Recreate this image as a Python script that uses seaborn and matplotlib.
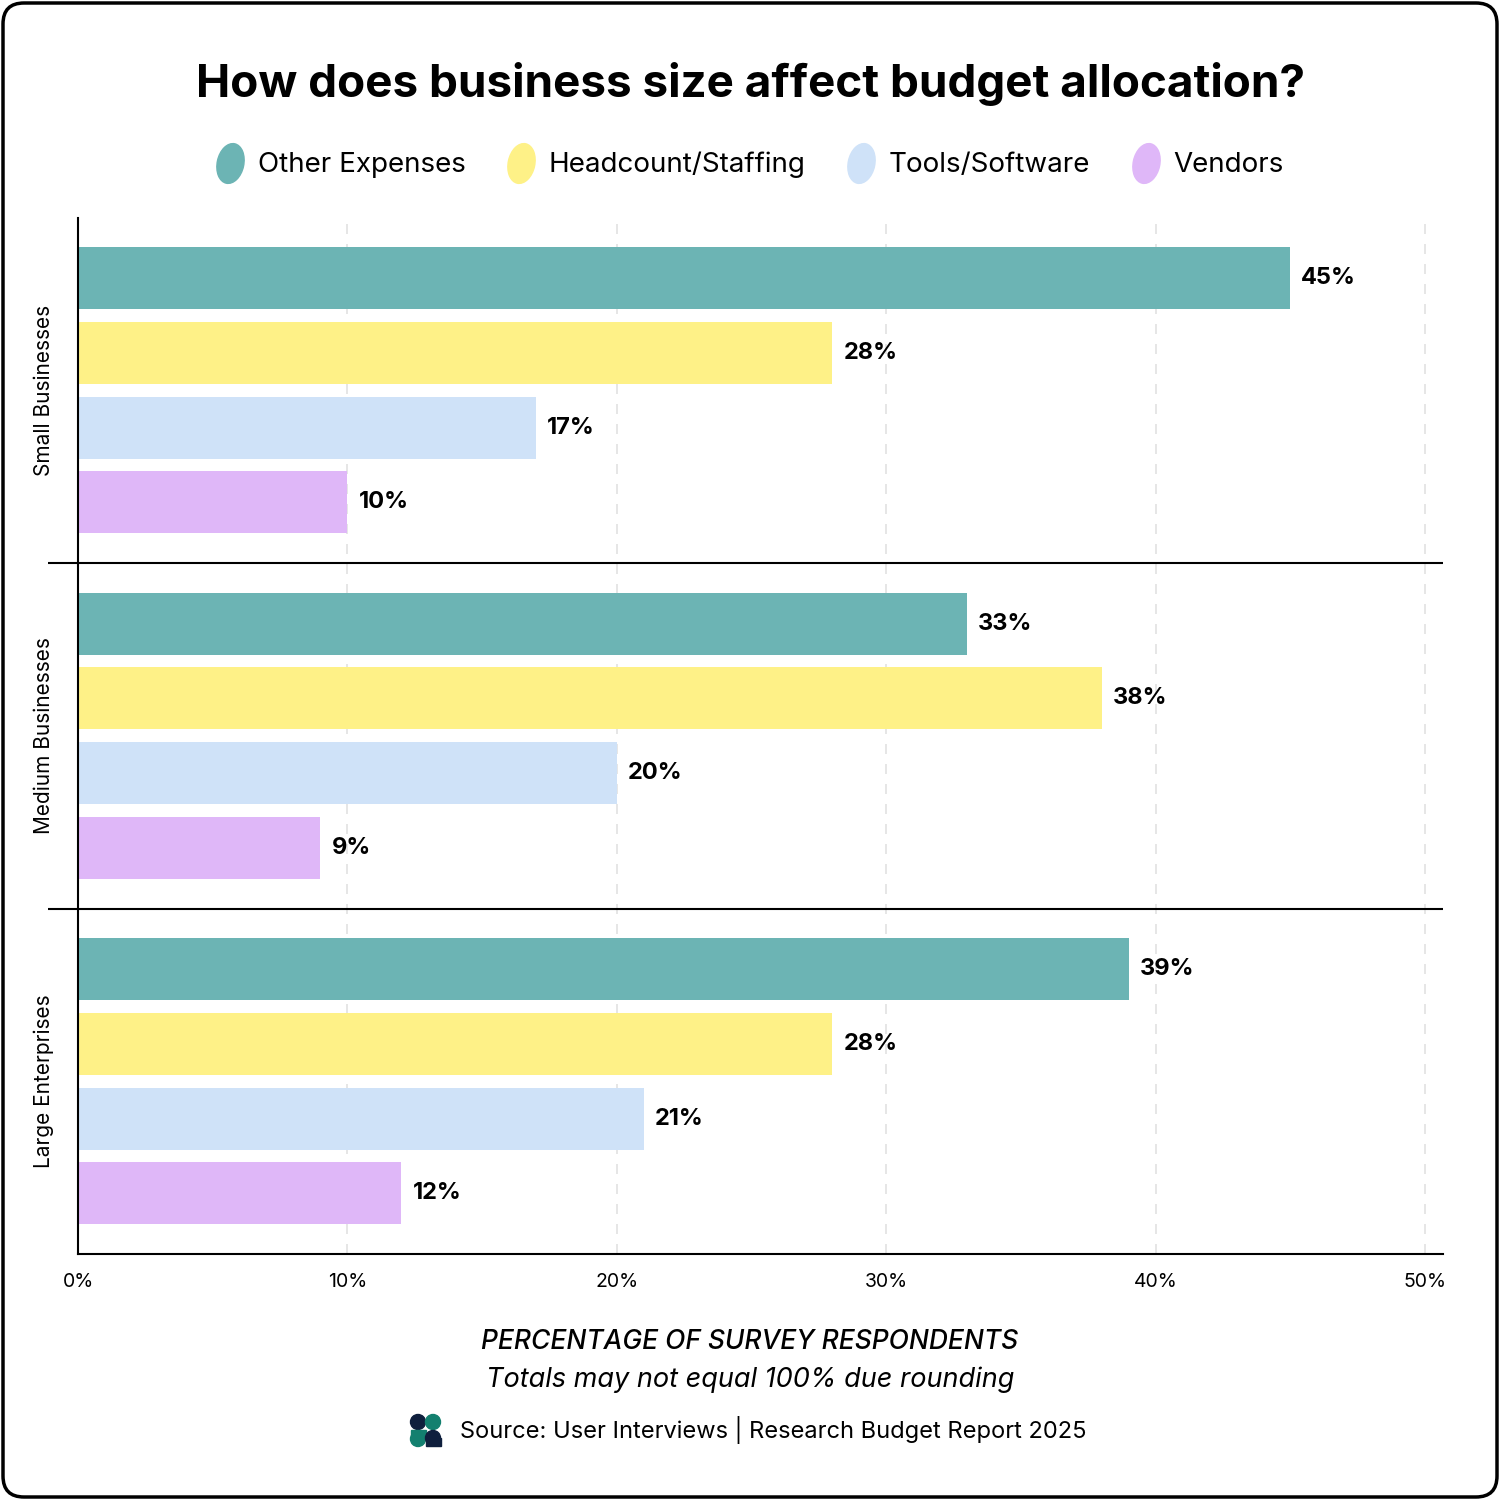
import numpy as np
import pandas as pd
import matplotlib as mpl
from matplotlib import pyplot as plt
from matplotlib.lines import Line2D
from matplotlib.markers import MarkerStyle
from matplotlib.patches import FancyBboxPatch, Circle, Rectangle
from matplotlib.transforms import Affine2D
import seaborn as sns

sns.set_theme(style='white')
plt.rcParams['font.family'] = ['Inter', 'DejaVu Sans']
for k in ['text.color', 'axes.labelcolor', 'xtick.color', 'ytick.color']:
    plt.rcParams[k] = 'black'

# 数据
groups = ['Small Businesses', 'Medium Businesses', 'Large Enterprises']
series = ['Other Expenses', 'Headcount/Staffing', 'Tools/Software', 'Vendors']
other = [45, 33, 39]
headcount = [28, 38, 28]
tools = [17, 20, 21]
vendors = [10, 9, 12]
xticks = [0, 10, 20, 30, 40, 50]
colors = ['#6CB4B4', '#FEF187', '#CFE2F8', '#DFB7F8']

df = pd.DataFrame({
    'group': groups * 4,
    'series': np.repeat(series, 3),
    'value': other + headcount + tools + vendors,
})

fig = plt.figure(figsize=(15, 15), dpi=100)
ax = fig.add_axes([0.052, 0.164, 0.91, 0.691])
sns.barplot(data=df, y='group', x='value', hue='series', order=groups,
            hue_order=series, palette=colors, saturation=1, width=0.865,
            gap=0.17, orient='h', errorbar=None, linewidth=0, legend=False, ax=ax)

for c in ax.containers:
    ax.bar_label(c, fmt='%d%%', padding=8, fontsize=17, fontweight='bold')

ax.set_xlim(0, 50.67)
ax.set_ylim(2.5, -0.5)
ax.set_xticks(xticks)
ax.set_xticklabels([f'{t}%' for t in xticks])
ax.set_xlabel('')
ax.set_ylabel('')
ax.xaxis.grid(True, linestyle=(0, (6, 6)), color='#e2e2e2', lw=1.2)
ax.set_axisbelow(True)
for s in ['top', 'right']:
    ax.spines[s].set_visible(False)
for s in ['left', 'bottom']:
    ax.spines[s].set_color('black')
    ax.spines[s].set_linewidth(1.5)
ax.tick_params(axis='x', length=0, pad=14, labelsize=14)
ax.tick_params(axis='y', length=0, pad=17, labelsize=15)
plt.setp(ax.get_yticklabels(), rotation=90, va='center')

# 分隔线
ax.hlines([0.5, 1.5], -0.022, 1, transform=ax.get_yaxis_transform(),
          colors='black', lw=1.5, clip_on=False)

# 标题与图例
fig.text(0.5, 1 - 84 / 1500, 'How does business size affect budget allocation?',
         ha='center', va='center', fontsize=33, fontweight='bold')
mk = MarkerStyle('o', transform=Affine2D().scale(0.66, 1).rotate_deg(-12))
handles = [Line2D([], [], ls='', marker=mk, markersize=29, color=c) for c in colors]
fig.legend(handles, series, loc='center', bbox_to_anchor=(0.5, 1 - 165 / 1500),
           ncol=4, frameon=False, fontsize=20, handlelength=1,
           handletextpad=0.5, columnspacing=1.5)

fig.text(0.5, 1 - 1342 / 1500, 'PERCENTAGE OF SURVEY RESPONDENTS',
         ha='center', va='center', fontsize=19, style='italic', fontweight='medium')
fig.text(0.5, 1 - 1380 / 1500, 'Totals may not equal 100% due rounding',
         ha='center', va='center', fontsize=19.5, style='italic')
fig.text(460 / 1500, 1 - 1430 / 1500,
         'Source: User Interviews | Research Budget Report 2025',
         ha='left', va='center', fontsize=17)

# logo
navy, teal = '#0F1F3D', '#13806F'
def px(x, y):
    return x / 1500, 1 - y / 1500
r = 7.5 / 1500
fig.patches.append(Circle(px(418, 1422), r, color=navy, transform=fig.transFigure))
fig.patches.append(Circle(px(433, 1422), r, color=teal, transform=fig.transFigure))
fig.patches.append(Circle(px(418, 1439), r, color=teal, transform=fig.transFigure))
fig.patches.append(Rectangle(px(410.5, 1439), 15 / 1500, 9 / 1500, color=teal,
                             transform=fig.transFigure))
fig.patches.append(Circle(px(433, 1438), r, color=navy, transform=fig.transFigure))
fig.patches.append(Rectangle(px(425.5, 1446), 15 / 1500, 8 / 1500, color=navy,
                             transform=fig.transFigure))

# 外框
fig.patches.append(FancyBboxPatch((0.002, 0.002), 0.996, 0.996,
                                  boxstyle='round,pad=0,rounding_size=0.014',
                                  transform=fig.transFigure, fill=False,
                                  edgecolor='black', lw=2.5))

fig.savefig('out.png', dpi=100)
